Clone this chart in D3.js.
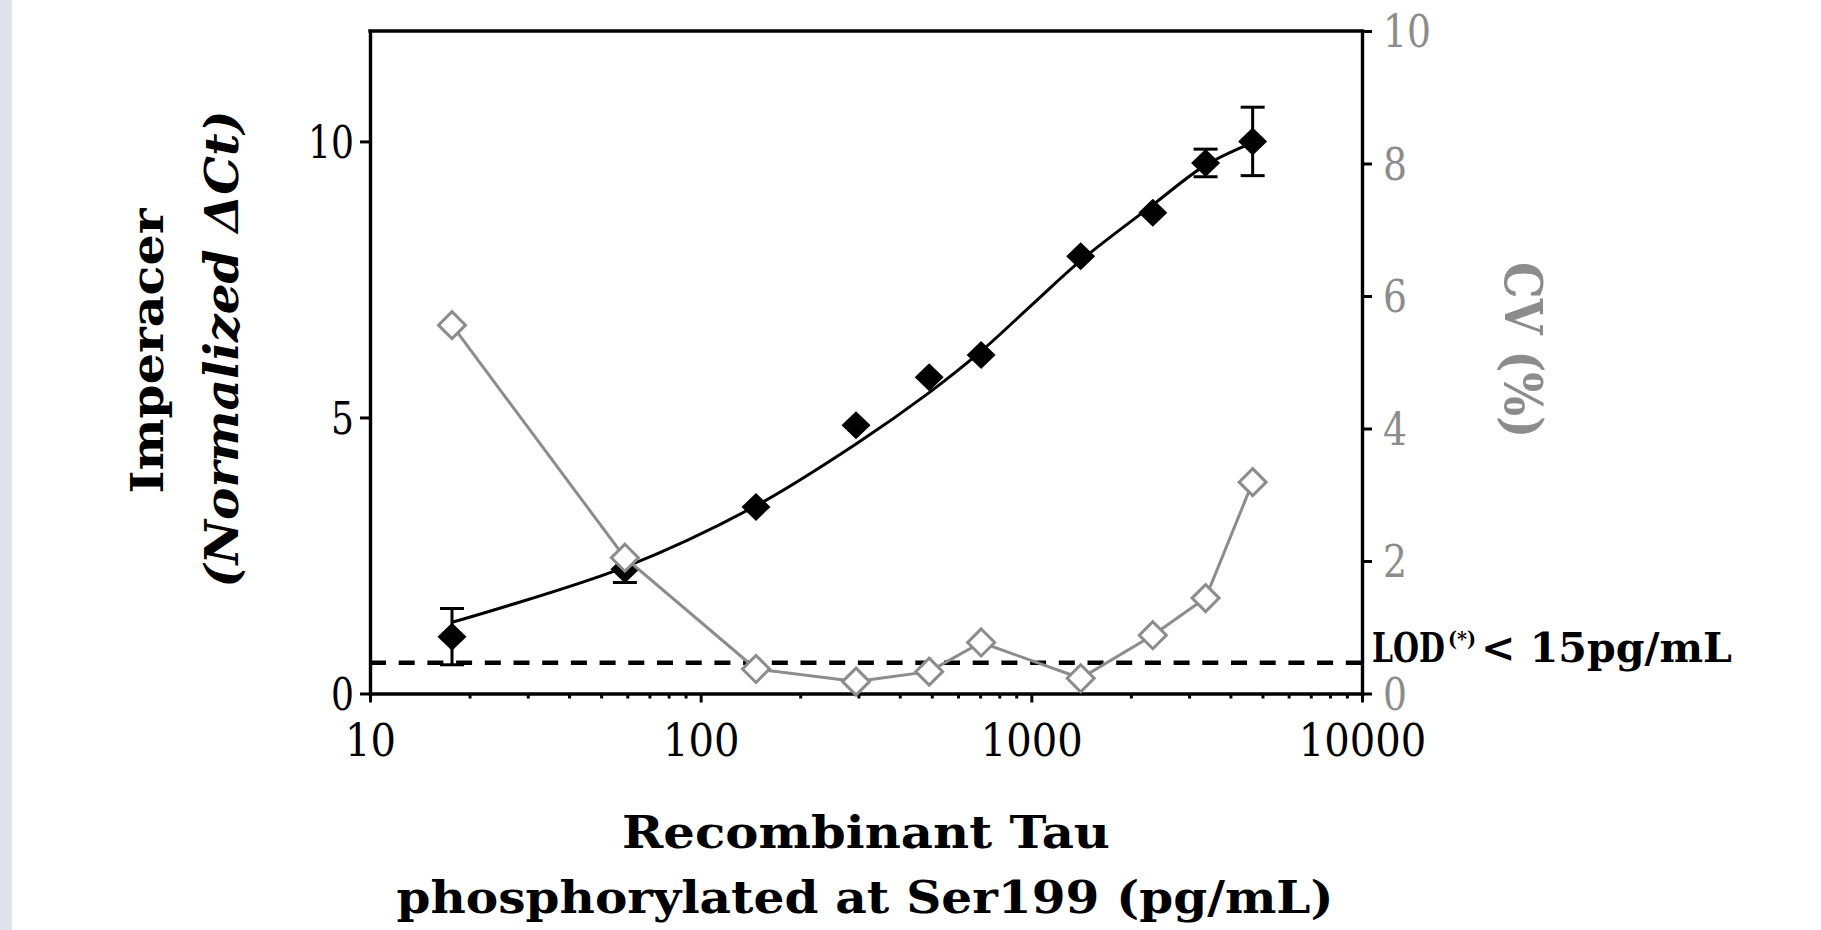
<!DOCTYPE html>
<html><head><meta charset="utf-8">
<script src="https://cdn.jsdelivr.net/npm/d3@7"></script>
<style>
html,body{margin:0;padding:0;background:#fff;}
svg{display:block;}
</style></head><body>
<svg id="chart" width="1821" height="930"></svg>
<script>
// ---- data ----
const concentrations = [17.7, 59, 147, 295, 491, 705, 1410, 2330, 3365, 4670];   // pg/mL
const signal        = [1.03, 2.25, 3.38, 4.86, 5.73, 6.13, 7.92, 8.71, 9.61, 10.0]; // normalized ΔCt
const signalErr     = [0.51, 0.24, 0, 0, 0, 0, 0, 0, 0.25, 0.62];
const cvPercent     = [5.56, 2.05, 0.37, 0.18, 0.33, 0.77, 0.23, 0.88, 1.44, 3.19];
const fitConc       = [17.7, 59, 147, 295, 491, 705, 1000, 1410, 2330, 3365, 4670];
const fitSignal     = [1.29, 2.29, 3.40, 4.52, 5.45, 6.20, 7.03, 7.84, 8.85, 9.57, 9.98];
const lodLevel = 0.556;
const xTicks = [10, 100, 1000, 10000];
const yLeftTicks = [0, 5, 10];
const yRightTicks = [0, 2, 4, 6, 8, 10];
const texts = {
  yTitle1: "Imperacer",
  yTitle2: "(Normalized ΔCt)",
  yRightTitle: "CV (%)",
  xTitle1: "Recombinant Tau",
  xTitle2: "phosphorylated at Ser199 (pg/mL)",
  lodMain: "LOD",
  lodSup: "(*)",
  lodRest: "< 15pg/mL"
};

// ---- setup ----
const svg = d3.select("#chart");
const FONT = "'DejaVu Serif', serif";
const GRAY = "#8c8c8c";
svg.append("rect").attr("x",0).attr("y",0).attr("width",12).attr("height",930).attr("fill","#e1e1eb");

const x = d3.scaleLog().domain([10, 10000]).range([370, 1362]);
const yL = d3.scaleLinear().domain([0, 12]).range([693.5, 31]);
const yR = d3.scaleLinear().domain([0, 10]).range([693.5, 31]);

function squeeze(sel, perChar) {
  sel.attr("textLength", function(){ return this.textContent.length * perChar; })
     .attr("lengthAdjust", "spacingAndGlyphs");
}
function styleAxis(g, color) {
  g.select(".domain").attr("stroke","#000").attr("stroke-width",3.4).attr("stroke-linecap","square");
  g.selectAll(".tick line").attr("stroke","#000").attr("stroke-width",3);
  g.selectAll(".tick text").attr("fill",color).attr("font-family",FONT).attr("font-size",44);
}
// horizontally condensed text via transform (keeps real text)
function condensedText(xPos, yPos, size, str, width) {
  const t = svg.append("text").attr("font-family",FONT).attr("font-weight","bold")
    .attr("font-size",size).attr("fill","#000").text(str);
  const w = t.node().getComputedTextLength();
  t.attr("transform", `translate(${xPos},${yPos}) scale(${width / w},1)`);
  return t;
}

// top frame line
svg.append("line")
  .attr("x1", x(10)).attr("x2", x(10000))
  .attr("y1", yR(10)).attr("y2", yR(10))
  .attr("stroke","#000").attr("stroke-width",3.4).attr("stroke-linecap","square");

// bottom axis minor ticks
const minor = x.ticks().filter(v => !xTicks.includes(v));
const gMinor = svg.append("g").attr("transform",`translate(0,${yL(0)})`)
  .call(d3.axisBottom(x).tickValues(minor).tickSize(5).tickSizeOuter(0).tickFormat(""));
styleAxis(gMinor, "#000");
gMinor.select(".domain").remove();

// bottom axis major
const gX = svg.append("g").attr("transform",`translate(0,${yL(0)})`)
  .call(d3.axisBottom(x).tickValues(xTicks).tickSize(9).tickSizeOuter(0).tickFormat(d3.format("d")));
styleAxis(gX, "#000");
gX.selectAll(".tick text").attr("y", 62.5).attr("dy", 0).call(squeeze, 25.5);

// left axis
const gL = svg.append("g").attr("transform",`translate(${x(10)},0)`)
  .call(d3.axisLeft(yL).tickValues(yLeftTicks).tickSize(10).tickPadding(6).tickSizeOuter(0));
styleAxis(gL, "#000");
gL.selectAll(".tick text").attr("dy","0.36em").call(squeeze, 23);

// right axis
const gR = svg.append("g").attr("transform",`translate(${x(10000)},0)`)
  .call(d3.axisRight(yR).tickValues(yRightTicks).tickSize(10).tickPadding(11).tickSizeOuter(0));
styleAxis(gR, GRAY);
gR.selectAll(".tick text").attr("dy","0.36em").call(squeeze, 24);

// ---- marks ----
const rows = concentrations.map((c,i) => ({c, s: signal[i], e: signalErr[i], cv: cvPercent[i]}));
const fitRows = fitConc.map((c,i) => ({c, s: fitSignal[i]}));
const diamond = (hw, hh) => `M0,${-hh}L${hw},0L0,${hh}L${-hw},0Z`;

// fit curve
svg.append("path").datum(fitRows)
  .attr("d", d3.line().x(d => x(d.c)).y(d => yL(d.s)).curve(d3.curveCatmullRom.alpha(0.5)))
  .attr("fill","none").attr("stroke","#000").attr("stroke-width",3);

// error bars
const eb = svg.append("g").attr("stroke","#000").attr("stroke-width",3);
rows.filter(d => d.e > 0).forEach(d => {
  const cx = x(d.c), y1 = yL(d.s + d.e), y2 = yL(d.s - d.e);
  eb.append("line").attr("x1",cx).attr("x2",cx).attr("y1",y1).attr("y2",y2);
  eb.append("line").attr("x1",cx-12).attr("x2",cx+12).attr("y1",y1).attr("y2",y1);
  eb.append("line").attr("x1",cx-12).attr("x2",cx+12).attr("y1",y2).attr("y2",y2);
});

// black diamonds
svg.append("g").selectAll("path").data(rows).join("path")
  .attr("transform", d => `translate(${x(d.c)},${yL(d.s)})`)
  .attr("d", diamond(14.5, 14)).attr("fill","#000");

// LOD dashed line
svg.append("line")
  .attr("x1", x(10)).attr("x2", x(10000))
  .attr("y1", yL(lodLevel)).attr("y2", yL(lodLevel))
  .attr("stroke","#000").attr("stroke-width",4.5).attr("stroke-dasharray","16 12.7");

// CV line + open diamonds
svg.append("path").datum(rows)
  .attr("d", d3.line().x(d => x(d.c)).y(d => yR(d.cv)))
  .attr("fill","none").attr("stroke",GRAY).attr("stroke-width",3);
svg.append("g").selectAll("path").data(rows).join("path")
  .attr("transform", d => `translate(${x(d.c)},${yR(d.cv)})`)
  .attr("d", diamond(13.5, 13.5)).attr("fill","#fff").attr("stroke",GRAY).attr("stroke-width",3);

// ---- titles ----
svg.append("text").attr("transform","translate(163,351) rotate(-90)")
  .attr("text-anchor","middle").attr("font-family",FONT).attr("font-weight","bold").attr("font-size",44)
  .attr("textLength",285).attr("lengthAdjust","spacingAndGlyphs").text(texts.yTitle1);
svg.append("text").attr("transform","translate(238,349) rotate(-90)")
  .attr("text-anchor","middle").attr("font-family",FONT).attr("font-weight","bold").attr("font-style","italic").attr("font-size",46)
  .attr("textLength",477).attr("lengthAdjust","spacingAndGlyphs").text(texts.yTitle2);
svg.append("text").attr("transform","translate(1505,350) rotate(90)")
  .attr("text-anchor","middle").attr("font-family",FONT).attr("font-weight","bold").attr("font-size",52).attr("fill",GRAY)
  .attr("textLength",176).attr("lengthAdjust","spacingAndGlyphs").text(texts.yRightTitle);
svg.append("text").attr("x",866).attr("y",848)
  .attr("text-anchor","middle").attr("font-family",FONT).attr("font-weight","bold").attr("font-size",44)
  .attr("textLength",488).attr("lengthAdjust","spacingAndGlyphs").text(texts.xTitle1);
svg.append("text").attr("x",865).attr("y",913)
  .attr("text-anchor","middle").attr("font-family",FONT).attr("font-weight","bold").attr("font-size",44)
  .attr("textLength",937).attr("lengthAdjust","spacingAndGlyphs").text(texts.xTitle2);

// LOD label: main text, superscript, rest
condensedText(1372, 662, 41, texts.lodMain, 73);
condensedText(1448, 646, 21, texts.lodSup, 28);
condensedText(1481, 662, 41, texts.lodRest, 251);
</script>
</body></html>
